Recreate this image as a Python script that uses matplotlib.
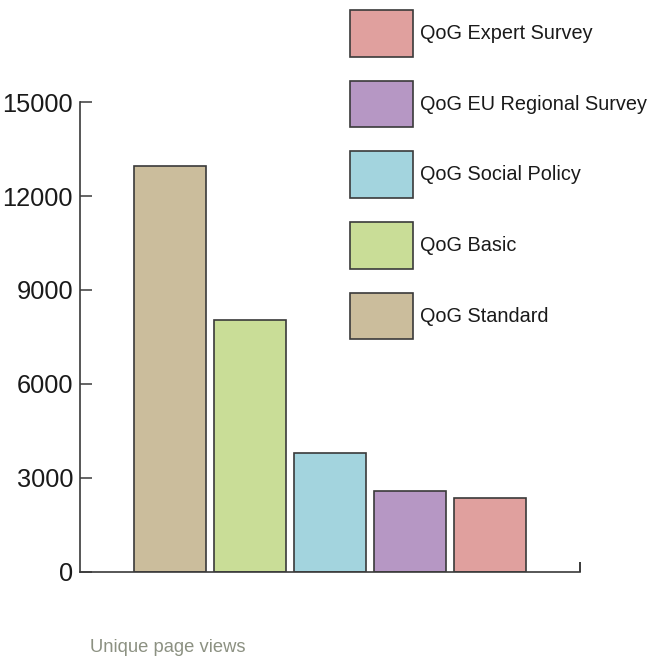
import matplotlib
matplotlib.use("Agg")
import matplotlib.pyplot as plt
from matplotlib.patches import Patch

plt.rcParams['font.family'] = ['Liberation Sans', 'DejaVu Sans']

datasets = ["QoG Standard", "QoG Basic", "QoG Social Policy",
            "QoG EU Regional Survey", "QoG Expert Survey"]
views = [12950, 8030, 3800, 2580, 2360]
colors = ["#cbbd9c", "#c9dd97", "#a3d4de", "#b697c4", "#e0a09e"]
yticks = [0, 3000, 6000, 9000, 12000, 15000]

W, H = 650, 659
fig = plt.figure(figsize=(W / 100, H / 100), dpi=100)
ax = fig.add_axes([80 / W, 1 - 571.5 / H, 500 / W, 469.2 / H])

edge = "#3a3a3a"
x = range(len(views))
ax.bar(x, views, width=0.9, color=colors, edgecolor=edge, linewidth=1.2)

ax.set_xlim(-1.125, 5.125)
ax.set_ylim(0, 15000)
ax.set_yticks(yticks)
ax.set_yticklabels([str(t) for t in yticks], fontsize=18.3, color="#1a1a1a")
ax.tick_params(axis="y", direction="in", length=8.5, width=1.1, color=edge, pad=5)
ax.set_xticks([5.125])
ax.set_xticklabels([""])
ax.tick_params(axis="x", direction="in", length=7, width=1.4, color=edge)

for s in ["top", "right"]:
    ax.spines[s].set_visible(False)
for s in ["left", "bottom"]:
    ax.spines[s].set_color(edge)
    ax.spines[s].set_linewidth(1.2)

handles = [Patch(facecolor=c, edgecolor=edge, linewidth=1.2) for c in colors]
fs = 14.3
em = fs * 100 / 72
leg = fig.legend(handles[::-1], datasets[::-1], loc="upper left",
                 bbox_to_anchor=(350 / W, 1 - 10 / H), frameon=False,
                 fontsize=fs, handlelength=63 / em,
                 handleheight=3.07 * 14.75 / fs * 47 / 46,
                 labelspacing=24 / em, handletextpad=7 / em, borderpad=0,
                 borderaxespad=0)
for t in leg.get_texts():
    t.set_color("#1a1a1a")

fig.text(90 / W, 1 - 648 / H, "Unique page views", fontsize=13.2,
         color="#8c9182", va="center", ha="left")

fig.savefig("out.png", dpi=100)
